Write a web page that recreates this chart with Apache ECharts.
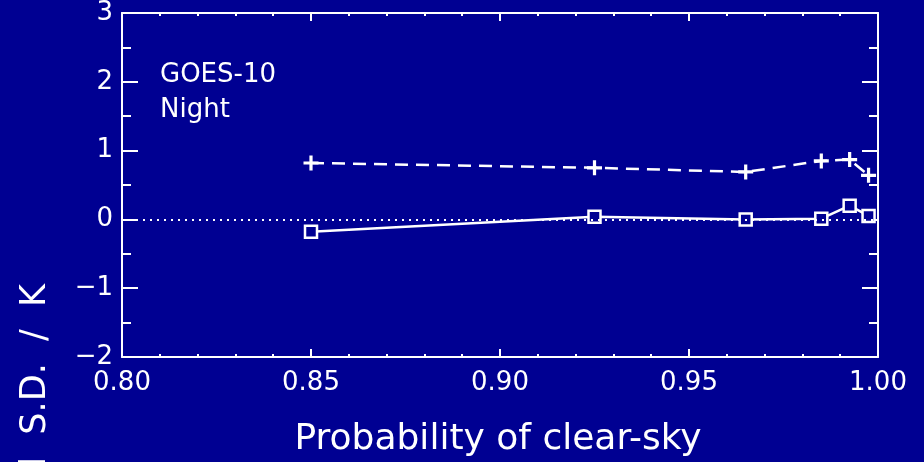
<!DOCTYPE html>
<html>
<head>
<meta charset="utf-8">
<script src="https://cdn.jsdelivr.net/npm/echarts@6/dist/echarts.min.js"></script>
<style>
  html, body { margin: 0; padding: 0; background: #000092; }
  #chart { width: 924px; height: 462px; }
</style>
</head>
<body>
<div id="chart"></div>
<script>
// probability of clear-sky (x) and the two curves
const clearProb = [0.85, 0.925, 0.965, 0.985, 0.9925, 0.9975];
const sdValues = [0.82, 0.75, 0.69, 0.85, 0.87, 0.64];
const biasValues = [-0.18, 0.04, 0.0, 0.01, 0.20, 0.05];
const xTicks = [0.80, 0.85, 0.90, 0.95, 1.00];
const yTicks = [-2, -1, 0, 1, 2, 3];

const bg = '#000092';
const font = 'DejaVu Sans';

let mychart = echarts.init(document.getElementById('chart'));

function pairs(ys) {
    return clearProb.map((x, i) => [x, ys[i]]);
}

// shared axis look
const lineStyle = { color: '#fff', width: 2 };
function xAxisCfg(pos, showLabel) {
    return {
        type: 'value',
        position: pos,
        min: xTicks[0],
        max: xTicks[xTicks.length - 1],
        interval: 0.05,
        axisLine: { show: true, onZero: false, lineStyle: lineStyle },
        axisTick: { show: true, inside: true, length: 8, lineStyle: lineStyle },
        minorTick: { show: true, splitNumber: 5, length: 3, lineStyle: lineStyle },
        splitLine: { show: false },
        axisLabel: {
            show: showLabel,
            color: '#fff',
            fontFamily: font,
            fontSize: 26,
            margin: 13,
            formatter: v => v.toFixed(2)
        }
    };
}
function yAxisCfg(pos, showLabel) {
    return {
        type: 'value',
        position: pos,
        min: yTicks[0],
        max: yTicks[yTicks.length - 1],
        interval: 1,
        axisLine: { show: true, onZero: false, lineStyle: lineStyle },
        axisTick: { show: true, inside: true, length: 16, lineStyle: lineStyle },
        minorTick: { show: true, splitNumber: 2, length: 9, lineStyle: lineStyle },
        splitLine: { show: false },
        axisLabel: {
            show: showLabel,
            color: '#fff',
            fontFamily: font,
            fontSize: 26,
            margin: 9,
            formatter: v => (v < 0 ? '\u2212' + Math.abs(v) : String(v))
        }
    };
}

let option = {
    backgroundColor: bg,
    animation: false,
    grid: { left: 122, right: 46, top: 13, bottom: 105 },
    xAxis: [xAxisCfg('bottom', true), xAxisCfg('top', false)],
    yAxis: [yAxisCfg('left', true), yAxisCfg('right', false)],
    graphic: [
        { type: 'text', left: 160, top: 62, style: { text: 'GOES-10', fill: '#fff', font: '26px "DejaVu Sans"' } },
        { type: 'text', left: 160, top: 97, style: { text: 'Night', fill: '#fff', font: '26px "DejaVu Sans"' } },
        {
            type: 'text', x: 498, y: 440,
            style: { text: 'Probability of clear-sky', fill: '#fff', font: '36px "DejaVu Sans"', align: 'center', verticalAlign: 'middle' }
        },
        {
            type: 'text', x: 36, y: 284, rotation: Math.PI / 2,
            style: { text: 'Bias and  S.D.  /  K', fill: '#fff', font: '35px "DejaVu Sans"', align: 'right', verticalAlign: 'middle' }
        }
    ],
    series: [
        {
            name: 'S.D.',
            type: 'line',
            data: pairs(sdValues),
            symbol: 'path://M5.5,0h3v5.5h5.5v3h-5.5v5.5h-3v-5.5h-5.5v-3h5.5z',
            symbolSize: 15,
            itemStyle: { color: '#fff' },
            lineStyle: { color: '#fff', width: 2.5, type: [13, 8] }
        },
        {
            name: 'Bias',
            type: 'line',
            data: pairs(biasValues),
            symbol: 'rect',
            symbolSize: 12,
            itemStyle: { color: bg, borderColor: '#fff', borderWidth: 2.5 },
            lineStyle: { color: '#fff', width: 2.5 },
            z: 3,
            markLine: {
                silent: true,
                symbol: 'none',
                label: { show: false },
                lineStyle: { color: '#fff', width: 2, type: [2, 5] },
                data: [{ yAxis: 0 }]
            }
        }
    ]
};
mychart.setOption(option);
</script>
</body>
</html>
